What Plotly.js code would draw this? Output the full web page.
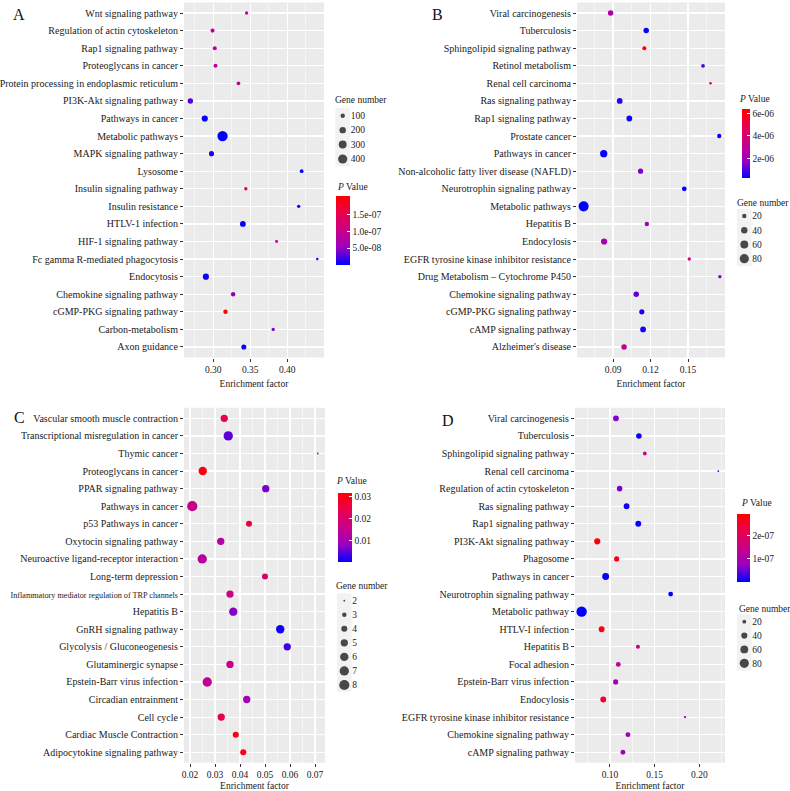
<!DOCTYPE html>
<html>
<head>
<meta charset="utf-8">
<script src="https://cdn.plot.ly/plotly-3.0.1.min.js"></script>
<style>
  html, body { margin: 0; padding: 0; background: #fff; }
  #chart { width: 790px; height: 791px; }
</style>
</head>
<body>
<div id="chart"></div>
<script>
// KEGG enrichment bubble charts, four panels (A-D)
// x = enrichment factor, size = gene number, colour = P value

// ---- panel A ----
var catsA = ['Wnt signaling pathway', 'Regulation of actin cytoskeleton', 'Rap1 signaling pathway',
  'Proteoglycans in cancer', 'Protein processing in endoplasmic reticulum', 'PI3K-Akt signaling pathway',
  'Pathways in cancer', 'Metabolic pathways', 'MAPK signaling pathway', 'Lysosome',
  'Insulin signaling pathway', 'Insulin resistance', 'HTLV-1 infection', 'HIF-1 signaling pathway',
  'Fc gamma R-mediated phagocytosis', 'Endocytosis', 'Chemokine signaling pathway',
  'cGMP-PKG signaling pathway', 'Carbon-metabolism', 'Axon guidance'];
var efA = [0.345, 0.299, 0.302, 0.303, 0.334, 0.269, 0.2885, 0.3125, 0.2976, 0.4195,
  0.344, 0.4155, 0.340, 0.3856, 0.4406, 0.290, 0.3268, 0.3165, 0.381, 0.3413];
var genesA = [62, 86, 86, 86, 73, 147, 184, 500, 131, 73,
  62, 62, 165, 51, 41, 184, 100, 100, 62, 131];
var pA = [1.0e-7, 8.4e-8, 8.6e-8, 9.0e-8, 9.6e-8, 3e-8, 2e-9, 1e-10, 8e-9, 2e-9,
  1.55e-7, 6e-9, 3e-9, 9e-8, 1.6e-8, 2e-9, 4.5e-8, 2.0e-7, 4e-8, 6e-9];
var sizeLegA = ['100', '200', '300', '400'];
var pTickA = [5e-8, 1e-7, 1.5e-7];
var pTextA = ['5.0e-08', '1.0e-07', '1.5e-07'];

// ---- panel B ----
var catsB = ['Viral carcinogenesis', 'Tuberculosis', 'Sphingolipid signaling pathway', 'Retinol metabolism',
  'Renal cell carcinoma', 'Ras signaling pathway', 'Rap1 signaling pathway', 'Prostate cancer',
  'Pathways in cancer', 'Non-alcoholic fatty liver disease (NAFLD)', 'Neurotrophin signaling pathway',
  'Metabolic pathways', 'Hepatitis B', 'Endocylosis', 'EGFR tyrosine kinase inhibitor resistance',
  'Drug Metabolism \u2013 Cytochrome P450', 'Chemokine signaling pathway', 'cGMP-PKG signaling pathway',
  'cAMP signaling pathway', "Alzheimer's disease"];
var efB = [0.088, 0.1165, 0.115, 0.162, 0.168, 0.0953, 0.103, 0.175, 0.0825, 0.112,
  0.147, 0.0664, 0.117, 0.0828, 0.151, 0.1755, 0.1085, 0.113, 0.114, 0.0988];
var genesB = [30, 30, 17, 15, 8, 33, 33, 20, 50, 27,
  23, 95, 20, 37, 13, 13, 30, 27, 33, 30];
var pB = [2.4e-6, 3.5e-7, 6.3e-6, 1.0e-6, 4.5e-6, 7.5e-7, 4e-7, 3e-7, 2.6e-7, 1.5e-6,
  3.2e-7, 2.5e-7, 2.0e-6, 2.1e-6, 3.9e-6, 1.6e-6, 1.2e-6, 5e-7, 4.5e-7, 3.0e-6];
var sizeLegB = ['20', '40', '60', '80'];
var pTickB = [2e-6, 4e-6, 6e-6];
var pTextB = ['2e-06', '4e-06', '6e-06'];

// ---- panel C ----
var catsC = ['Vascular smooth muscle contraction', 'Transcriptional misregulation in cancer', 'Thymic cancer',
  'Proteoglycans in cancer', 'PPAR signaling pathway', 'Pathways in cancer', 'p53 Pathways in cancer',
  'Oxytocin signaling pathway', 'Neuroactive ligand-receptor interaction', 'Long-term depression',
  'Inflammatory mediator regulation of TRP channels', 'Hepatitis B', 'GnRH signaling pathway',
  'Glycolysis / Gluconeogenesis', 'Glutaminergic synapse', 'Epstein-Barr virus infection',
  'Circadian entrainment', 'Cell cycle', 'Cardiac Muscle Contraction', 'Adipocytokine signaling pathway'];
var efC = [0.0337, 0.0353, 0.0711, 0.0251, 0.0503, 0.0209, 0.0436, 0.0323, 0.0249, 0.050,
  0.036, 0.0373, 0.0561, 0.0589, 0.036, 0.0269, 0.0427, 0.0325, 0.0383, 0.0413];
var genesC = [5, 7, 2, 6, 5, 8, 4, 5, 7, 4,
  5, 6, 6, 5, 5, 7, 5, 5, 4, 4];
var pC = [0.0228, 0.0047, 0.027, 0.0307, 0.0063, 0.0158, 0.0253, 0.012, 0.0133, 0.019,
  0.0164, 0.007, 0.0006, 0.0032, 0.0158, 0.0139, 0.0095, 0.0228, 0.030, 0.0284];
var sizeLegC = ['2', '3', '4', '5', '6', '7', '8'];
var pTickC = [0.01, 0.02, 0.03];
var pTextC = ['0.01', '0.02', '0.03'];

// ---- panel D ----
var catsD = ['Viral carcinogenesis', 'Tuberculosis', 'Sphingolipid signaling pathway', 'Renal cell carcinoma',
  'Regulation of actin cytoskeleton', 'Ras signaling pathway', 'Rap1 signaling pathway',
  'PI3K-Akt signaling pathway', 'Phagosome', 'Pathways in cancer', 'Neurotrophin signaling pathway',
  'Metabolic pathway', 'HTLV-I infection', 'Hepatitis B', 'Focal adhesion', 'Epstein-Barr virus infection',
  'Endocylosis', 'EGFR tyrosine kinase inhibitor resistance', 'Chemokine signaling pathway',
  'cAMP signaling pathway'];
var efD = [0.1067, 0.1324, 0.139, 0.2212, 0.1108, 0.1186, 0.1317, 0.0858, 0.1075, 0.0952,
  0.1679, 0.0683, 0.0907, 0.1313, 0.1093, 0.1064, 0.0925, 0.1839, 0.1201, 0.1145];
var genesD = [37, 34, 20, 10, 34, 37, 37, 40, 31, 48,
  28, 100, 37, 22, 28, 31, 37, 12, 28, 28];
var pD = [6.4e-8, 5e-9, 1.45e-7, 1e-8, 5.8e-8, 8e-9, 5e-9, 2.85e-7, 2.67e-7, 1e-9,
  2e-9, 1e-10, 2.8e-7, 1.45e-7, 1.3e-7, 8.7e-8, 2.46e-7, 6.4e-8, 8.7e-8, 8.7e-8];
var sizeLegD = ['20', '40', '60', '80'];
var pTickD = [1e-7, 2e-7];
var pTextD = ['1e-07', '2e-07'];

// ---------------------------------------------------------------
var W = 790, H = 791;
function px(x) { return x / W; }
function py(y) { return 1 - y / H; }

var FONT = "'Liberation Serif', 'Times New Roman', serif";
var TXT = '#1a1a1a';

// ggplot default blue -> red gradient (interpolated in Lab)
var pScale = [[0, 'rgb(0,0,255)'], [0.25, 'rgb(154,0,194)'], [0.5, 'rgb(201,0,136)'],
  [0.75, 'rgb(232,0,79)'], [1, 'rgb(255,0,0)']];

// size scale: area linear between two legend references
function areaSize(vals, s) {
  var k = (s.d1 * s.d1 - s.d0 * s.d0) / (s.v1 - s.v0);
  return vals.map(function (v) {
    var a = s.d0 * s.d0 + (Number(v) - s.v0) * k;
    return Math.max(1.8, Math.sqrt(Math.max(0, a)));
  });
}

var panels = [
  { letter: 'A', cats: catsA, x: efA, g: genesA, p: pA, xd: [184, 324], yd: [2.5, 357.5],
    xr: [0.2604, 0.4497], dtick: 0.05, cmin: 0, cmax: 2.05e-7, ptv: pTickA, ptt: pTextA,
    cb: { x: 335.7, y: 196, len: 69, th: 13.6 }, sz: { v0: 100, d0: 4.4, v1: 400, d1: 9.2 },
    leg: sizeLegA, legX: 342.7, legY: [115.7, 159], pT: [335, 186.7], gT: [333, 100], lab: [19, 15] },
  { letter: 'B', cats: catsB, x: efB, g: genesB, p: pB, xd: [577, 725], yd: [2.5, 357.5],
    xr: [0.0611, 0.1796], dtick: 0.03, cmin: 2.5e-7, cmax: 6.4e-6, ptv: pTickB, ptt: pTextB,
    cb: { x: 741.7, y: 109, len: 69, th: 7.7 }, sz: { v0: 20, d0: 4.4, v1: 80, d1: 9.2 },
    leg: sizeLegB, legX: 744.3, legY: [216, 258.7], pT: [736.7, 99], gT: [735, 203.3], lab: [438, 15] },
  { letter: 'C', cats: catsC, x: efC, g: genesC, p: pC, xd: [184, 325], yd: [407.8, 762.8],
    xr: [0.0176, 0.0740], dtick: 0.01, cmin: 0, cmax: 0.0316, ptv: pTickC, ptt: pTextC,
    cb: { x: 337.7, y: 493.3, len: 69.4, th: 14 }, sz: { v0: 2, d0: 1.8, v1: 8, d1: 10.2 },
    leg: sizeLegC, legX: 344.3, legY: [600.7, 685], pT: [334.3, 481], gT: [334.3, 586], lab: [19, 418] },
  { letter: 'D', cats: catsD, x: efD, g: genesD, p: pD, xd: [575, 725], yd: [407.8, 762.8],
    xr: [0.0609, 0.2287], dtick: 0.05, cmin: 0, cmax: 2.9e-7, ptv: pTickD, ptt: pTextD,
    cb: { x: 736.7, y: 514.3, len: 68.4, th: 13.3 }, sz: { v0: 20, d0: 3.8, v1: 80, d1: 9.2 },
    leg: sizeLegD, legX: 744.3, legY: [621.7, 663.3], pT: [739, 503.3], gT: [737, 609.3], lab: [448, 420] }
];

var data = [];
var layout = {
  width: W, height: H,
  margin: { l: 0, r: 0, t: 0, b: 0 },
  paper_bgcolor: 'white',
  plot_bgcolor: '#EBEBEB',
  showlegend: false,
  font: { family: FONT, color: TXT, size: 10 },
  annotations: [],
  shapes: []
};

panels.forEach(function (P, i) {
  var n = i + 1;
  var xa = n === 1 ? 'x' : 'x' + n, ya = n === 1 ? 'y' : 'y' + n;
  var la = 'x' + (n + 4), lya = 'y' + (n + 4);

  // category labels; the long TRP label is condensed as in the figure
  var ticktext = P.cats.map(function (c) {
    return c.length > 45 ? '<span style="font-size:8.2px">' + c + '</span>' : c;
  });

  data.push({
    type: 'scatter', mode: 'markers', xaxis: xa, yaxis: ya,
    x: P.x, y: P.cats, text: P.g, hoverinfo: 'x+y+text',
    marker: {
      size: areaSize(P.g, P.sz), color: P.p, colorscale: pScale,
      cmin: P.cmin, cmax: P.cmax, showscale: true, line: { width: 0 }, opacity: 1,
      colorbar: {
        x: px(P.cb.x), xanchor: 'left', y: py(P.cb.y), yanchor: 'top',
        len: P.cb.len, lenmode: 'pixels', thickness: P.cb.th, thicknessmode: 'pixels',
        xpad: 0, ypad: 0, outlinewidth: 0, borderwidth: 0,
        tickvals: P.ptv, ticktext: P.ptt, ticks: 'inside', ticklen: 3, tickcolor: 'white',
        tickfont: { family: FONT, size: 9.5, color: TXT }
      }
    }
  });

  layout[xa === 'x' ? 'xaxis' : 'xaxis' + n] = {
    domain: [px(P.xd[0]), px(P.xd[1])], anchor: ya, range: P.xr,
    tick0: 0, dtick: P.dtick, tickformat: '.2f',
    ticks: 'outside', ticklen: 3, tickcolor: '#333', tickwidth: 1,
    tickfont: { family: FONT, size: 9.5, color: TXT },
    showgrid: true, gridcolor: 'white', gridwidth: 1.2,
    minor: { dtick: P.dtick / 2, tick0: 0, showgrid: true, gridcolor: 'white', gridwidth: 0.5 },
    zeroline: false, showline: false, fixedrange: true,
    title: { text: 'Enrichment factor', font: { family: FONT, size: 9.5, color: TXT }, standoff: 6 }
  };
  layout[ya === 'y' ? 'yaxis' : 'yaxis' + n] = {
    domain: [py(P.yd[1]), py(P.yd[0])], anchor: xa,
    type: 'category', categoryorder: 'array', categoryarray: P.cats,
    tickvals: P.cats, ticktext: ticktext,
    range: [P.cats.length - 1 + 0.6, -0.6],
    ticks: 'outside', ticklen: 3, tickcolor: '#333', tickwidth: 1,
    tickfont: { family: FONT, size: 10, color: TXT },
    showgrid: true, gridcolor: 'white', gridwidth: 1.2,
    zeroline: false, showline: false, fixedrange: true
  };

  // gene-number size legend keys, drawn on a small axis of their own
  var nl = P.leg.length;
  var sp = (P.legY[1] - P.legY[0]) / (nl - 1);
  data.push({
    type: 'scatter', mode: 'markers', xaxis: la, yaxis: lya,
    x: P.leg.map(function () { return 0; }), y: P.leg, hoverinfo: 'skip',
    marker: { size: areaSize(P.leg, P.sz), color: 'black', line: { width: 0 } }
  });
  layout['xaxis' + (n + 4)] = {
    domain: [px(P.legX - 7), px(P.legX + 7)], anchor: lya, range: [-1, 1],
    visible: false, fixedrange: true
  };
  layout['yaxis' + (n + 4)] = {
    domain: [py(P.legY[1] + sp / 2), py(P.legY[0] - sp / 2)], anchor: la, side: 'right',
    type: 'category', categoryorder: 'array', categoryarray: P.leg,
    range: [nl - 0.5, -0.5], showgrid: false, zeroline: false, showline: false, ticks: '',
    tickfont: { family: FONT, size: 9.5, color: TXT }, fixedrange: true
  };
  layout.shapes.push({
    type: 'rect', xref: la + ' domain', yref: lya + ' domain', x0: 0, x1: 1, y0: 0, y1: 1,
    fillcolor: '#F2F2F2', line: { width: 0 }, layer: 'below'
  });

  // legend titles and panel letter
  layout.annotations.push({
    xref: 'paper', yref: 'paper', x: px(P.pT[0]), y: py(P.pT[1]), xanchor: 'left', yanchor: 'middle',
    text: '<i>P</i> Value', showarrow: false, font: { family: FONT, size: 9.5, color: TXT }
  });
  layout.annotations.push({
    xref: 'paper', yref: 'paper', x: px(P.gT[0]), y: py(P.gT[1]), xanchor: 'left', yanchor: 'middle',
    text: 'Gene number', showarrow: false, font: { family: FONT, size: 9.5, color: TXT }
  });
  layout.annotations.push({
    xref: 'paper', yref: 'paper', x: px(P.lab[0]), y: py(P.lab[1]), xanchor: 'center', yanchor: 'middle',
    text: P.letter, showarrow: false, font: { family: FONT, size: 16, color: '#111' }
  });
});

Plotly.newPlot('chart', data, layout, { displayModeBar: false, staticPlot: true });
</script>
</body>
</html>
